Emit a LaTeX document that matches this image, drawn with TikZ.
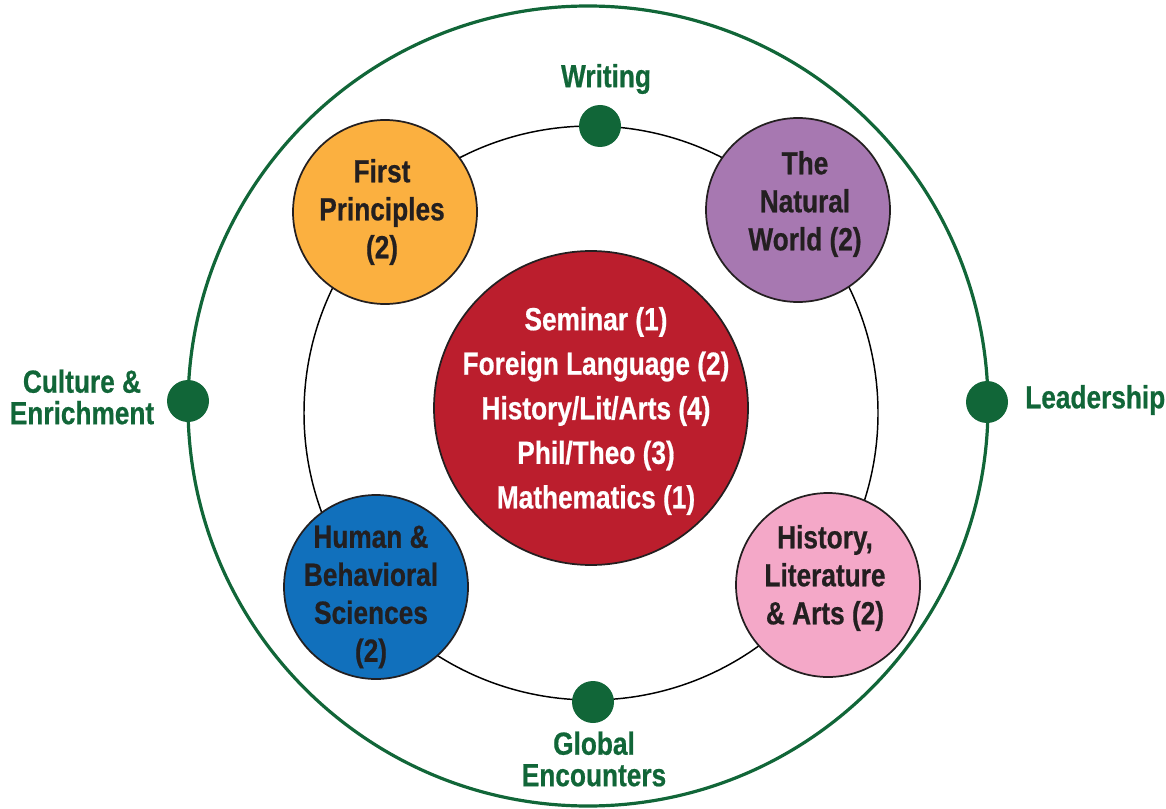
\documentclass[tikz,border=0pt]{standalone}
\usepackage{fontspec}
\setmainfont{Liberation Sans}[FakeStretch=0.82,BoldFeatures={FakeBold=0.6}]
\definecolor{ringgreen}{RGB}{17,102,56}
\definecolor{corered}{RGB}{187,30,45}
\definecolor{fporange}{RGB}{251,176,64}
\definecolor{nwpurple}{RGB}{167,120,177}
\definecolor{hbblue}{RGB}{17,112,188}
\definecolor{hlpink}{RGB}{244,168,200}
\definecolor{darktext}{RGB}{35,31,32}
\begin{document}
\begin{tikzpicture}[x=0.75pt,y=-0.75pt,
  outerring/.style={circle,draw=ringgreen,line width=2.4pt,minimum size=600pt,inner sep=0pt},
  innerring/.style={circle,draw=black,line width=1.1pt,minimum size=430.5pt,inner sep=0pt},
  gdot/.style={circle,fill=ringgreen,minimum size=31.5pt,inner sep=0pt},
  area/.style={circle,draw=darktext,line width=1.3pt,minimum size=138pt,inner sep=0pt},
  core/.style={circle,draw=darktext,line width=1.3pt,fill=corered,minimum size=235.5pt,inner sep=0pt},
  darklabel/.style={inner sep=0pt,align=center,text=darktext,font=\fontsize{24}{28.5}\selectfont\bfseries},
  corelabel/.style={inner sep=0pt,align=center,text=white,font=\fontsize{24}{33.4}\selectfont\bfseries},
  greenlabel/.style={inner sep=0pt,align=center,text=ringgreen,font=\fontsize{24}{23.6}\selectfont\bfseries}
]
\useasboundingbox (0,0) rectangle (1166,809);
% rings
\node[outerring] (outer) at (588,406) {};
\node[innerring] (inner) at (591,413) {};
% dots
\node[gdot] (dwriting) at (600,126) {};
\node[gdot] (dculture) at (188,401) {};
\node[gdot] (dleader) at (987,402) {};
\node[gdot] (dglobal) at (593,702) {};
% area circles
\node[area,fill=fporange] (fp) at (385,212) {};
\node[area,fill=nwpurple] (nw) at (798,210) {};
\node[area,fill=hbblue] (hb) at (376,587) {};
\node[area,fill=hlpink] (hl) at (828,585) {};
\node[core] (corecirc) at (591,408) {};
% texts
\node[darklabel] (fptext) at (382,212) {First\\Principles\\(2)};
\node[darklabel] (nwtext) at (805,204) {The\\Natural\\World (2)};
\node[darklabel] (hbtext) at (371,597) {Human \&\\Behavioral\\Sciences\\(2)};
\node[darklabel] (hltext) at (825,578) {History,\\Literature\\\& Arts (2)};
\node[corelabel] (coretext) at (596,411) {Seminar (1)\\Foreign Language (2)\\History/Lit/Arts (4)\\Phil/Theo (3)\\Mathematics (1)};
% green labels
\node[greenlabel] (lwriting) at (606,79) {Writing};
\node[greenlabel] (lculture) at (82,397) {Culture \&\\Enrichment};
\node[greenlabel,anchor=west] (lleader) at (1025,400) {Leadership};
\node[greenlabel] (lglobal) at (594,759) {Global\\Encounters};
\end{tikzpicture}
\end{document}
